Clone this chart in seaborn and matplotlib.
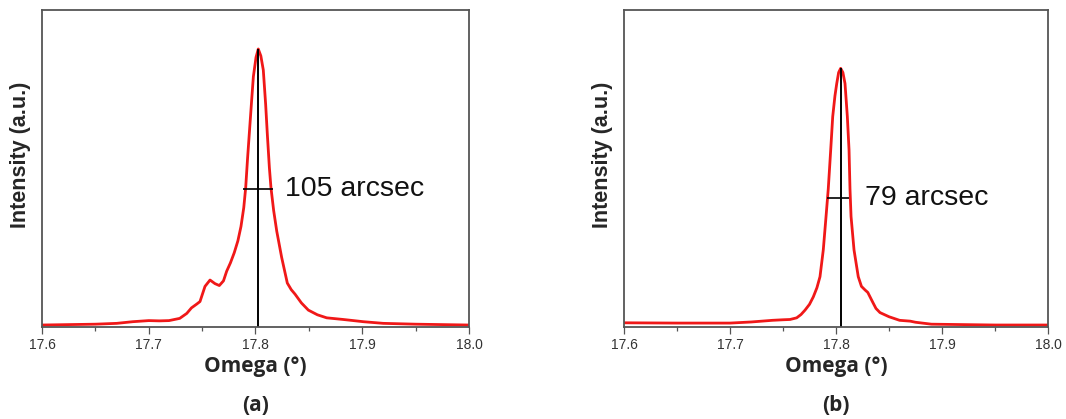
import numpy as np
import pandas as pd
import matplotlib
matplotlib.use("Agg")
import matplotlib.pyplot as plt
from matplotlib.ticker import MultipleLocator
import seaborn as sns

# rocking curve (a), intensity normalised to peak = 1
omega_a = [17.600, 17.650, 17.670, 17.685, 17.700, 17.710, 17.719, 17.729, 17.7356,
           17.740, 17.745, 17.748, 17.7527, 17.7574, 17.762, 17.7661, 17.770,
           17.7730, 17.7765, 17.7801, 17.7835, 17.7864, 17.7890, 17.7908, 17.7925,
           17.7942, 17.7965, 17.798, 17.8005, 17.8026, 17.805, 17.8073, 17.8095,
           17.8111, 17.8130, 17.8145, 17.8170, 17.8199, 17.8245, 17.8298, 17.8335,
           17.8370, 17.8430, 17.8495, 17.8580, 17.8667, 17.8823, 17.8917, 17.901,
           17.9197, 17.950, 18.000]
inten_a = [0.000, 0.003, 0.006, 0.012, 0.016, 0.015, 0.016, 0.024, 0.042,
           0.062, 0.076, 0.085, 0.140, 0.163, 0.150, 0.143, 0.160,
           0.195, 0.225, 0.262, 0.305, 0.357, 0.425, 0.497, 0.600,
           0.694, 0.820, 0.900, 0.970, 1.000, 0.975, 0.924, 0.800,
           0.690, 0.570, 0.497, 0.415, 0.340, 0.245, 0.152, 0.128,
           0.112, 0.080, 0.054, 0.037, 0.026, 0.020, 0.016, 0.012,
           0.006, 0.003, 0.000]

# rocking curve (b)
omega_b = [17.600, 17.650, 17.700, 17.720, 17.740, 17.750, 17.7566, 17.7629, 17.7670,
           17.7708, 17.7750, 17.7786, 17.7820, 17.7849, 17.7880, 17.7906, 17.7927,
           17.7950, 17.7969, 17.7990, 17.8007, 17.8025, 17.8044, 17.8065, 17.8085,
           17.8107, 17.8123, 17.8132, 17.8142, 17.8170, 17.8210, 17.8240, 17.8274,
           17.8300, 17.8321, 17.8350, 17.8377, 17.8415, 17.850, 17.860, 17.870,
           17.875, 17.890, 17.950, 18.000]
inten_b = [0.008, 0.007, 0.007, 0.011, 0.017, 0.019, 0.020, 0.026, 0.038,
           0.054, 0.075, 0.102, 0.135, 0.175, 0.272, 0.393, 0.493,
           0.634, 0.755, 0.830, 0.875, 0.915, 0.930, 0.915, 0.875,
           0.755, 0.634, 0.493, 0.393, 0.272, 0.175, 0.140, 0.127,
           0.118, 0.102, 0.080, 0.060, 0.045, 0.030, 0.017, 0.014,
           0.010, 0.003, 0.000, 0.000]

# peak position / FWHM markers
peak_x = [17.8026, 17.8050]
peak_y = [1.000, 0.930]
fwhm_left = [17.7885, 17.7918]
fwhm_right = [17.8160, 17.8126]
fwhm_y = [0.493, 0.460]
fwhm_text = ['105 arcsec', '79 arcsec']
panel_tags = ['(a)', '(b)']

sns.set_style("ticks")
plt.rcParams['font.family'] = ['Liberation Sans', 'DejaVu Sans']

fig = plt.figure(figsize=(10.66, 4.19), dpi=100)
axes = [fig.add_axes([42/1066, 92/419, 427/1066, 317/419]),
        fig.add_axes([624/1066, 92/419, 424/1066, 317/419])]

curves = [(omega_a, inten_a), (omega_b, inten_b)]
ymin, ymax = -0.0072, 1.1413

for i, ax in enumerate(axes):
    df = pd.DataFrame({'omega': curves[i][0], 'intensity': curves[i][1]})
    sns.lineplot(data=df, x='omega', y='intensity', ax=ax, color='#f01818',
                 linewidth=2.0, sort=False)
    ax.vlines(peak_x[i], ymin, peak_y[i], color='black', linewidth=1.4)
    ax.hlines(fwhm_y[i], fwhm_left[i], fwhm_right[i], color='black', linewidth=1.2)
    ax.text(17.8276, fwhm_y[i], fwhm_text[i], fontsize=20.5, va='center', ha='left',
            color='#111111')

    ax.set_xlim(17.6, 18.0)
    ax.set_ylim(ymin, ymax)
    ax.xaxis.set_major_locator(MultipleLocator(0.1))
    ax.xaxis.set_minor_locator(MultipleLocator(0.05))
    ax.xaxis.set_major_formatter(plt.FormatStrFormatter('%.1f'))
    ax.set_yticks([])
    ax.tick_params(axis='x', which='major', length=5, width=0.9, colors='#555555',
                   labelsize=10, labelcolor='#333333', pad=3)
    ax.tick_params(axis='x', which='minor', length=3, width=0.9, colors='#555555')
    for sp in ax.spines.values():
        sp.set_visible(True)
        sp.set_color('#555555')
        sp.set_linewidth(1.3)

    ax.set_xlabel('Omega (°)', fontsize=15, fontweight='bold', family=['Open Sans', 'DejaVu Sans'])
    ax.xaxis.set_label_coords(0.5, -0.126)
    ax.xaxis.label.set_va('center')
    ax.set_ylabel('Intensity (a.u.)', fontsize=15.5, fontweight='bold')
    ax.yaxis.set_label_coords(-0.0515, 0.5426)
    ax.yaxis.label.set_va('center')

    cx = (ax.get_position().x0 + ax.get_position().x1) / 2
    fig.text(cx, 1 - 405/419, panel_tags[i], fontsize=15, fontweight='bold',
             ha='center', va='center', family=['Open Sans', 'DejaVu Sans'])

fig.savefig('out.png', dpi=100)
